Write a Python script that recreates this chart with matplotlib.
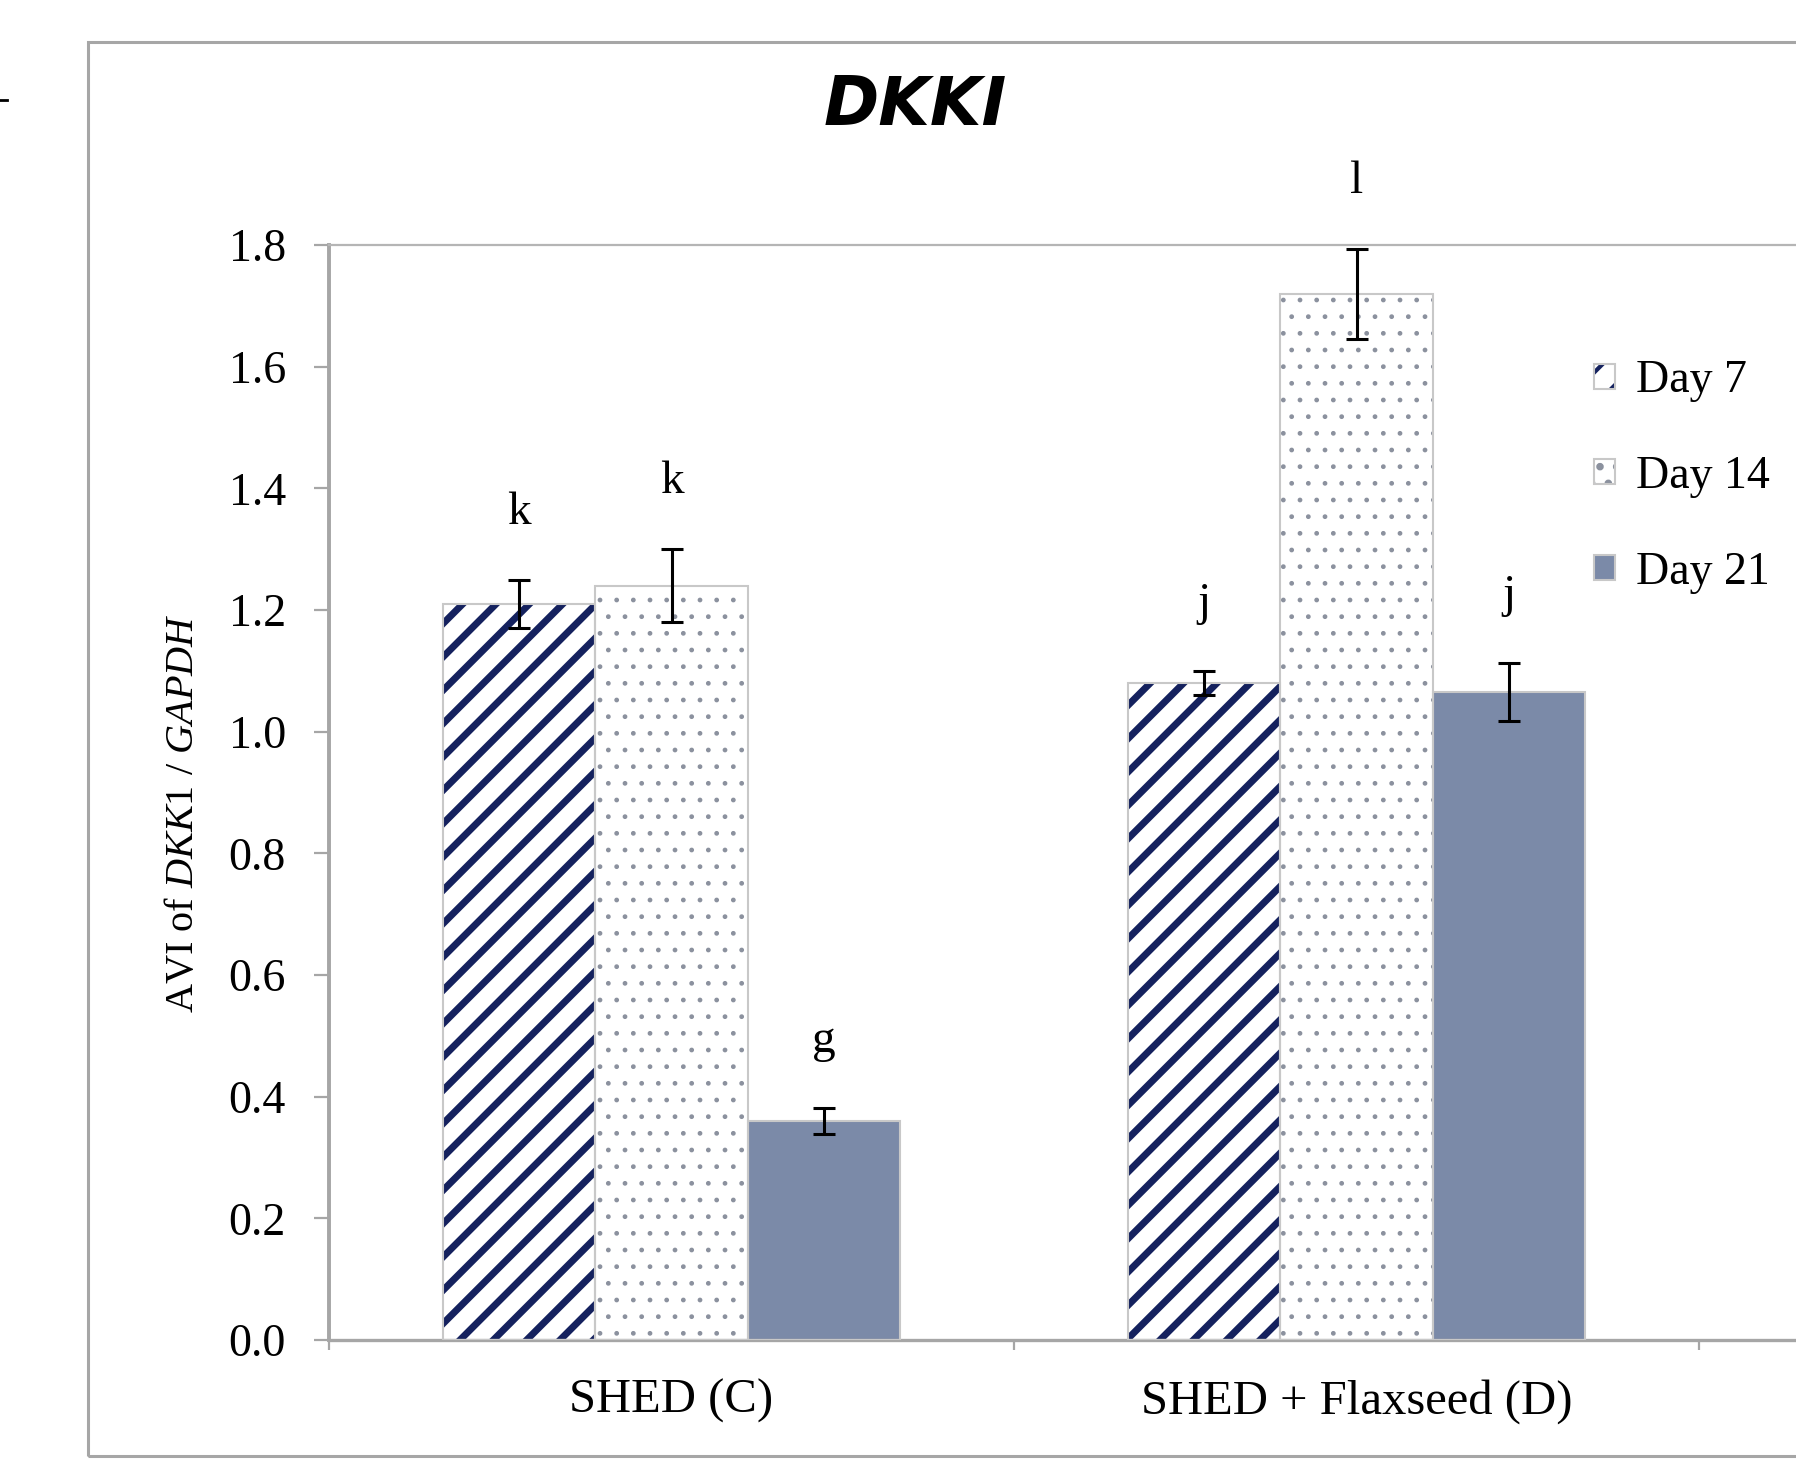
import matplotlib
matplotlib.use("Agg")
import matplotlib.pyplot as plt
import numpy as np
from matplotlib.patches import Rectangle
from matplotlib.lines import Line2D

# Datos (AVI de DKK1 / GAPDH)
GRUPOS = ["SHED (C)", "SHED + Flaxseed (D)"]
SERIES = ["Day 7", "Day 14", "Day 21"]
DIA7 = [1.21, 1.08]
DIA14 = [1.24, 1.72]
DIA21 = [0.36, 1.065]
ERR7 = [0.04, 0.02]
ERR14 = [0.06, 0.074]
ERR21 = [0.022, 0.048]
LETRAS7 = ["k", "j"]
LETRAS14 = ["k", "l"]
LETRAS21 = ["g", "j"]
Y_TICKS = [0.0, 0.2, 0.4, 0.6, 0.8, 1.0, 1.2, 1.4, 1.6, 1.8]

SERIF = "Liberation Serif"
plt.rcParams["font.family"] = SERIF
plt.rcParams["mathtext.fontset"] = "custom"
plt.rcParams["mathtext.rm"] = SERIF
plt.rcParams["mathtext.it"] = SERIF + ":italic"

GRIS = "#a6a6a6"
estilos = [
    dict(face="white", hatch="/", hcolor="#14215e", hlw=5.0),
    dict(face="white", hatch=".", hcolor="#8b919e", hlw=1.0),
    dict(face="#7b8aa8", hatch=None, hcolor="#7b8aa8", hlw=1.0),
]

W, H = 1796, 1478
fig = plt.figure(figsize=(W / 100, H / 100), dpi=100)

# Ejes: el gráfico original está recortado por la derecha
x0, y_top, y_bot, ancho_cat = 329, 245, 1340, 685
ax = fig.add_axes([x0 / W, (H - y_bot) / H, 1 - x0 / W, (y_bot - y_top) / H])
ax.set_xlim(-0.5, -0.5 + (W - x0) / ancho_cat)
ax.set_ylim(0, 1.8)

medias = [DIA7, DIA14, DIA21]
errores = [ERR7, ERR14, ERR21]
letras = [LETRAS7, LETRAS14, LETRAS21]
ancho = 0.2224
x = np.arange(len(GRUPOS))
handles = []
for i, (serie, est) in enumerate(zip(SERIES, estilos)):
    pos = x + (i - 1) * ancho
    with plt.rc_context({"hatch.linewidth": est["hlw"]}):
        barras = ax.bar(pos, medias[i], ancho, color=est["face"], edgecolor=est["hcolor"],
                        hatch=est["hatch"], linewidth=0, label=serie, zorder=2)
    for b in barras:
        if hasattr(b, "set_hatch_linewidth"):
            b.set_hatch_linewidth(est["hlw"])
    bordes = ax.bar(pos, medias[i], ancho, color="none", edgecolor="#c8c8c8",
                    linewidth=1.5, zorder=3)
    ax.errorbar(pos, medias[i], yerr=errores[i], fmt="none", ecolor="black",
                elinewidth=2.2, capsize=8, capthick=2.2, zorder=4)
    for xp, m, e, l in zip(pos, medias[i], errores[i], letras[i]):
        ax.text(xp, m + e + 0.092, l, ha="center", va="baseline", fontsize=34, color="black")
    handles.append((barras, bordes))

# Ejes y marcas
ax.spines["right"].set_visible(False)
ax.spines["top"].set_color("#b5b5b5")
ax.spines["top"].set_linewidth(1.6)
ax.spines["left"].set_color(GRIS)
ax.spines["left"].set_linewidth(2.8)
ax.spines["bottom"].set_color(GRIS)
ax.spines["bottom"].set_linewidth(2.4)

ax.set_yticks(Y_TICKS)
ax.set_yticklabels([f"{v:.1f}" for v in Y_TICKS])
ax.tick_params(axis="y", direction="out", length=11, width=1.6, color=GRIS,
               labelsize=33, pad=20)

ax.set_xticks([-0.5, 0.5, 1.5])
ax.set_xticklabels([])
ax.set_xticks(x, minor=True)
ax.set_xticklabels(GRUPOS, minor=True)
ax.tick_params(axis="x", which="major", direction="out", length=7, width=1.6, color=GRIS)
ax.tick_params(axis="x", which="minor", length=0, labelsize=35, pad=28)

ax.set_ylabel(r"AVI of $\mathit{DKK1}$ / $\mathit{GAPDH}$", fontsize=29)
ax.yaxis.label.set_va("center")
ax.yaxis.set_label_coords((183 - x0) / (W - x0), (y_bot - 813) / (y_bot - y_top))

with plt.rc_context({"hatch.linewidth": 3.0}):
    leg = ax.legend(handles=handles, labels=SERIES, loc="upper left",
                    bbox_to_anchor=(1594 / W, 1 - 360 / H),
                    bbox_transform=fig.transFigure, frameon=False, fontsize=33,
                    handlelength=0.46, handleheight=0.46, handletextpad=0.46,
                    labelspacing=1.16, borderpad=0, borderaxespad=0)

fig.text(915 / W, 1 - 106 / H, "DKKI", ha="center", va="center", fontsize=48,
         fontweight="bold", fontstyle="italic", family="DejaVu Sans")

# Marco exterior y pequeño trazo de la esquina
fig.add_artist(Rectangle((88 / W, (H - 1456) / H), 1.0, (1456 - 42) / H, fill=False,
                         edgecolor=GRIS, linewidth=2.2, transform=fig.transFigure))
fig.add_artist(Line2D([0, 7 / W], [1 - 100 / H] * 2, color="black", linewidth=2,
                      transform=fig.transFigure))

fig.savefig("out.png", dpi=100)
